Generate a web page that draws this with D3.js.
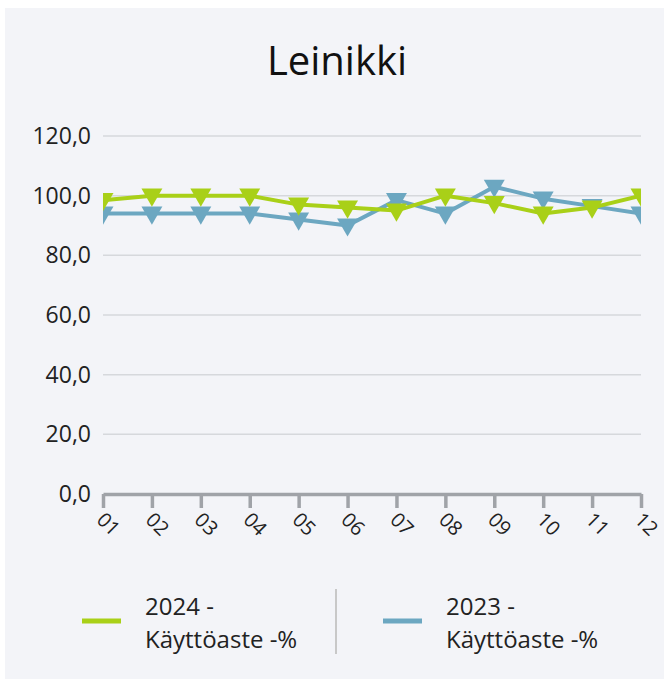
<!DOCTYPE html>
<html>
<head>
<meta charset="utf-8">
<script src="https://cdn.jsdelivr.net/npm/d3@7"></script>
<style>
  body { margin: 0; background: #ffffff; }
  svg { display: block; font-family: "Open Sans", "Noto Sans", sans-serif; }
</style>
</head>
<body>
<div id="chart"></div>
<script>
// month labels along the x axis
let months = ["01", "02", "03", "04", "05", "06", "07", "08", "09", "10", "11", "12"];
// Käyttöaste -% per month
let values2024 = [98.5, 100, 100, 100, 97, 96, 95, 100, 97.5, 94, 96, 100];
let values2023 = [94, 94, 94, 94, 92, 90, 98.5, 94, 103, 99, 96.5, 94];
let yTicks = [0, 20, 40, 60, 80, 100, 120];
let seriesNames = ["2024 - Käyttöaste -%", "2023 - Käyttöaste -%"];
let seriesColors = ["#a9d018", "#6ca7c1"];

let width = 664, height = 680;
let plotLeft = 103, plotRight = 641, plotTop = 136, plotBottom = 494;

let svg = d3.select("#chart").append("svg")
    .attr("width", width)
    .attr("height", height);

svg.append("rect")
    .attr("x", 5).attr("y", 8)
    .attr("width", width - 5).attr("height", 671)
    .attr("fill", "#f3f4f8");

svg.append("text")
    .attr("x", 337).attr("y", 75)
    .attr("text-anchor", "middle")
    .attr("font-size", 40)
    .attr("fill", "#111")
    .text("Leinikki");

let x = d3.scalePoint().domain(months).range([plotLeft, plotRight]);
let y = d3.scaleLinear().domain([0, 120]).range([plotBottom, plotTop]);

// grid lines + y labels
svg.append("g").selectAll("line")
    .data(yTicks.filter(d => d > 0))
    .enter().append("line")
    .attr("x1", plotLeft).attr("x2", plotRight)
    .attr("y1", d => y(d)).attr("y2", d => y(d))
    .attr("stroke", "#d6d8dc")
    .attr("stroke-width", 1.5);

svg.append("g").selectAll("text")
    .data(yTicks)
    .enter().append("text")
    .attr("x", 91)
    .attr("y", d => y(d) + 8)
    .attr("text-anchor", "end")
    .attr("font-size", 23)
    .attr("fill", "#222")
    .text(d => d3.format(".1f")(d).replace(".", ","));

// x axis
let xAxis = svg.append("g")
    .attr("transform", "translate(0," + plotBottom + ")")
    .call(d3.axisBottom(x).tickSize(14).tickSizeOuter(0));
xAxis.select(".domain").attr("stroke", "#a0a3a8").attr("stroke-width", 3.5);
xAxis.selectAll(".tick line").attr("stroke", "#a0a3a8").attr("stroke-width", 3.5);
xAxis.selectAll(".tick text")
    .attr("font-size", 20)
    .attr("font-family", "\"Open Sans\", sans-serif")
    .attr("fill", "#222")
    .attr("text-anchor", "start")
    .attr("y", 0).attr("dy", 0)
    .attr("transform", "translate(-8,27) rotate(45)");

// clip marks to plot area
svg.append("clipPath").attr("id", "plotclip")
    .append("rect")
    .attr("x", plotLeft).attr("y", plotTop - 30)
    .attr("width", plotRight - plotLeft).attr("height", plotBottom - plotTop + 40);

let plot = svg.append("g").attr("clip-path", "url(#plotclip)");

let line = d3.line()
    .x((d, i) => x(months[i]))
    .y(d => y(d));

let tri = d3.symbol().type(d3.symbolTriangle).size(190);

[values2023, values2024].forEach(function(vals, k) {
  let color = k === 0 ? seriesColors[1] : seriesColors[0];
  plot.append("path")
      .datum(vals)
      .attr("d", line)
      .attr("fill", "none")
      .attr("stroke", color)
      .attr("stroke-width", 4)
      .attr("stroke-linejoin", "round");
  plot.append("g").selectAll("path")
      .data(vals)
      .enter().append("path")
      .attr("d", tri)
      .attr("transform", (d, i) => "translate(" + x(months[i]) + "," + (y(d) - 1) + ") rotate(180)")
      .attr("fill", color);
});

// legend
let legend = svg.append("g");
let legendX = [82, 383];
seriesNames.forEach(function(name, i) {
  let parts = name.split(" - ");
  legend.append("line")
      .attr("x1", legendX[i]).attr("x2", legendX[i] + 39)
      .attr("y1", 621).attr("y2", 621)
      .attr("stroke", seriesColors[i])
      .attr("stroke-width", 5);
  legend.append("text")
      .attr("x", legendX[i] + 63).attr("y", 615)
      .attr("font-size", 24)
      .attr("fill", "#222")
      .text(parts[0] + " -");
  legend.append("text")
      .attr("x", legendX[i] + 63).attr("y", 648)
      .attr("font-size", 24)
      .attr("fill", "#222")
      .text(parts[1]);
});
legend.append("line")
    .attr("x1", 336).attr("x2", 336)
    .attr("y1", 589).attr("y2", 654)
    .attr("stroke", "#c8c8c8")
    .attr("stroke-width", 2);
</script>
</body>
</html>
